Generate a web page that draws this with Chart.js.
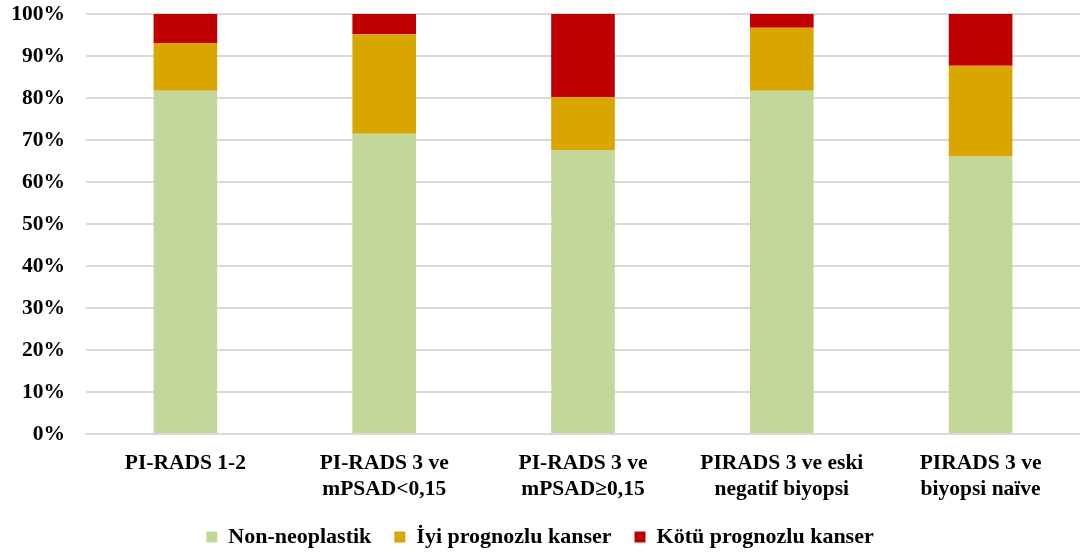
<!DOCTYPE html>
<html>
<head>
<meta charset="utf-8">
<script src="https://cdn.jsdelivr.net/npm/chart.js@4/dist/chart.umd.min.js"></script>
<style>
  html, body { margin: 0; padding: 0; background: #fff; }
  #wrap { width: 1080px; height: 552px; }
</style>
</head>
<body>
<div id="wrap"><canvas id="chart"></canvas></div>
<script>
// kategoriler
const categories = [
    'PI-RADS 1-2',
    ['PI-RADS 3 ve', 'mPSAD<0,15'],
    ['PI-RADS 3 ve', 'mPSAD≥0,15'],
    ['PIRADS 3 ve eski', 'negatif biyopsi'],
    ['PIRADS 3 ve', 'biyopsi naïve']
];

// yüzde değerleri
const nonNeoplastik = [81.7, 71.5, 67.6, 81.7, 66.1];
const iyiPrognozlu = [11.4, 23.7, 12.6, 15.0, 21.6];
const kotuPrognozlu = [6.9, 4.8, 19.8, 3.3, 12.3];

const yTicks = [0, 10, 20, 30, 40, 50, 60, 70, 80, 90, 100];

const serif = "'Liberation Serif', 'Times New Roman', serif";
Chart.defaults.font.family = serif;
Chart.defaults.font.weight = 'bold';
Chart.defaults.font.size = 21.5;
Chart.defaults.color = '#000';

function dataset(label, data, color) {
    return {
        label: label,
        data: data,
        backgroundColor: color,
        borderWidth: 0,
        barPercentage: 0.32,
        categoryPercentage: 1.0
    };
}

new Chart(document.getElementById('chart'), {
    type: 'bar',
    data: {
        labels: categories,
        datasets: [
            dataset('Non-neoplastik', nonNeoplastik, '#C4D79B'),
            dataset('İyi prognozlu kanser', iyiPrognozlu, '#D9A600'),
            dataset('Kötü prognozlu kanser', kotuPrognozlu, '#C00000')
        ]
    },
    options: {
        responsive: true,
        maintainAspectRatio: false,
        animation: false,
        layout: { padding: { left: 0, right: 0, top: 14, bottom: -6 } },
        plugins: {
            tooltip: { enabled: false },
            legend: {
                position: 'bottom',
                labels: {
                    boxWidth: 11,
                    boxHeight: 11,
                    padding: 23,
                    font: { size: 22, weight: 'bold' }
                }
            }
        },
        scales: {
            x: {
                stacked: true,
                grid: { display: false, drawTicks: false },
                border: { display: true, color: '#D9D9D9', width: 2 },
                ticks: { padding: 17, maxRotation: 0, autoSkip: false },
                afterFit: axis => { axis.height = 69; }
            },
            y: {
                stacked: true,
                min: 0,
                max: 100,
                afterBuildTicks: axis => { axis.ticks = yTicks.map(v => ({ value: v })); },
                grid: { color: '#D9D9D9', lineWidth: 2, drawTicks: false },
                border: { display: false },
                ticks: { padding: 21, callback: v => v + '%' },
                afterFit: axis => {
                    axis.width = 86;
                    axis.paddingTop = 0;
                    axis.paddingBottom = 0;
                }
            }
        }
    }
});
</script>
</body>
</html>
